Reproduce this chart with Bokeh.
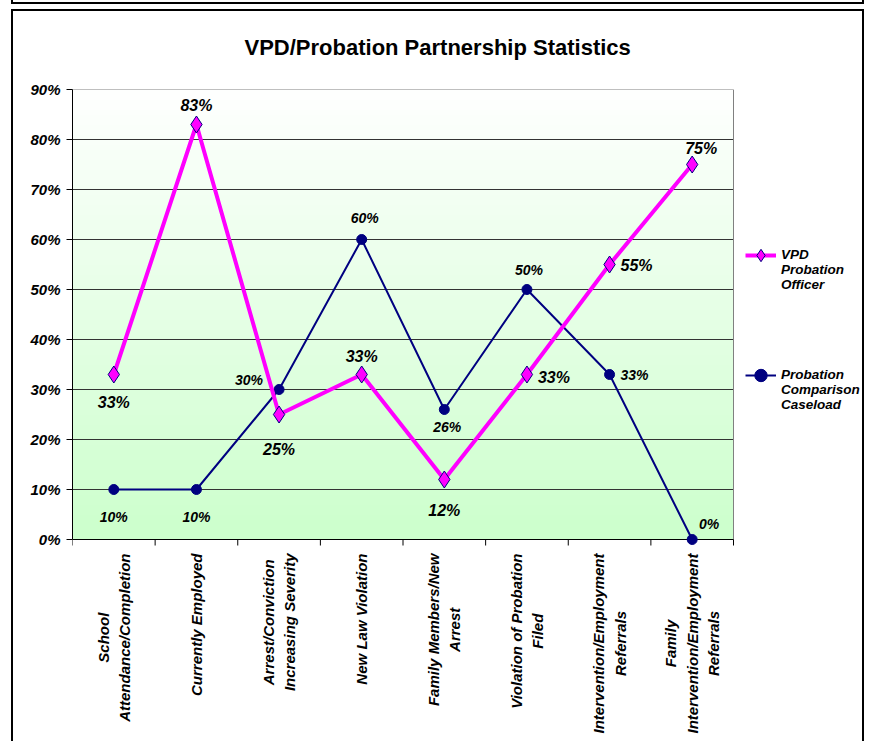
import numpy as np
from bokeh.plotting import figure
from bokeh.models import (Range1d, FixedTicker, PrintfTickFormatter, Legend, LegendItem,
                          ColumnDataSource)
from bokeh.core.properties import value
from bokeh.embed import file_html
from bokeh.resources import INLINE

# ---------------- data ----------------
categories = [
    "School\nAttendance/Completion",
    "Currently Employed",
    "Arrest/Conviction\nIncreasing Severity",
    "New Law Violation",
    "Family Members/New\nArrest",
    "Violation of Probation\nFiled",
    "Intervention/Employment\nReferrals",
    "Family\nIntervention/Employment\nReferrals",
]
vpd_values = [33, 83, 25, 33, 12, 33, 55, 75]
comparison_values = [10, 10, 30, 60, 26, 50, 33, 0]
y_ticks = [0, 10, 20, 30, 40, 50, 60, 70, 80, 90]
series_names = ["VPD\nProbation\nOfficer", "Probation\nComparison\nCaseload"]
title_text = "VPD/Probation Partnership Statistics"

# label placement (pixels) - styling only
vpd_dx = [0, 0, 0, 0, 0, 27, 27, 9]
vpd_dy = [28, -19, 35, -18, 31, 3, 1, -16]
cmp_dx = [0, 0, -30, 3, 3, 2, 25, 17]
cmp_dy = [27, 27, -10, -22, 17, -20, 0, -16]

FONT = "Liberation Sans"
MAGENTA = "#FF00FF"
NAVY = "#000080"

# layout (pixels)
W, H = 869, 741
LEFT, TOP, RIGHT_PAD = 72, 89, 4
PLOT_W, PLOT_H = 661, 450          # the gradient plot area

n = len(categories)
xs = [i + 0.5 for i in range(n)]
frame_w = W - LEFT - RIGHT_PAD
frame_h = H - TOP
x_end = n * frame_w / PLOT_W
y_top = y_ticks[-1]
y_start = y_top - frame_h * y_top / PLOT_H

p = figure(width=W, height=H, output_backend="svg", toolbar_location=None,
           x_range=Range1d(0, x_end), y_range=Range1d(y_start, y_top),
           min_border_left=LEFT, min_border_right=RIGHT_PAD, min_border_top=TOP,
           min_border_bottom=0)
p.background_fill_color = None
p.border_fill_color = None
p.outline_line_color = None

# outer chart frames drawn as CSS lines behind the transparent canvas
lines = [  # (x, y, w, h)
    (11, 0, 2, 4), (862, 0, 2, 4), (11, 2, 853, 2),
    (11, 9, 2, 740), (11, 9, 853, 2), (862, 9, 2, 740),
]
p.styles = {
    "background-color": "white",
    "background-image": ", ".join(["linear-gradient(#000,#000)"] * len(lines)),
    "background-size": ", ".join(f"{w}px {h}px" for _, _, w, h in lines),
    "background-position": ", ".join(f"{x}px {y}px" for x, y, _, _ in lines),
    "background-repeat": "no-repeat",
}

# gradient plot area (white at top -> light green at bottom)
bands = np.arange(y_ticks[0], y_ticks[-1], 1.0)
t = (bands + 0.5) / y_ticks[-1]
band_colors = ["#%02x%02x%02x" % (int(204 + 51 * tt), 255, int(204 + 51 * tt)) for tt in t]
p.quad(left=0, right=n, bottom=bands, top=bands + 1, fill_color=band_colors,
       line_color=band_colors, line_width=1, level="image")

# grid lines and plot-area border
p.xgrid.visible = False
p.ygrid.visible = False
inner = y_ticks[1:-1]
p.segment(x0=[0] * len(inner), x1=[n] * len(inner), y0=inner, y1=inner,
          line_color="#333333", line_width=1)
p.segment(x0=[0, n], x1=[n, n], y0=[y_top, 0], y1=[y_top, y_top],
          line_color="#808080", line_width=1)
# category axis line and boundary tick marks
p.segment(x0=[0], x1=[n], y0=[0], y1=[0], line_color="black", line_width=1)
p.ray(x=list(range(n + 1)), y=[0] * (n + 1), length=6, length_units="screen",
      angle=-np.pi / 2, line_color="black", line_width=1)
p.xaxis.visible = False

# y axis
p.yaxis.ticker = FixedTicker(ticks=y_ticks)
p.yaxis.bounds = (y_ticks[0], y_ticks[-1])
p.yaxis.formatter = PrintfTickFormatter(format="%d%%")
p.yaxis.axis_line_color = "black"
p.yaxis.major_tick_out = 6
p.yaxis.major_tick_in = 0
p.yaxis.minor_tick_line_color = None
p.yaxis.major_label_text_font = FONT
p.yaxis.major_label_text_font_style = "bold italic"
p.yaxis.major_label_text_font_size = "15px"
p.yaxis.major_label_text_color = "black"
p.yaxis.major_label_standoff = 6

# category labels, rotated, centred lines, hanging from the axis
p.text(x=xs, y=[0] * n, text=categories, angle=np.pi / 2, y_offset=14,
       anchor="center_right", text_align="center", text_font=value(FONT),
       text_font_style="bold italic", text_font_size="15px", text_color="black",
       text_line_height=1.25)

# series
src = ColumnDataSource(dict(x=xs, vpd=vpd_values, cmp=comparison_values,
                            vpd_lbl=[f"{v}%" for v in vpd_values],
                            cmp_lbl=[f"{v}%" for v in comparison_values],
                            vdx=vpd_dx, vdy=vpd_dy, cdx=cmp_dx, cdy=cmp_dy))

cmp_line = p.line("x", "cmp", source=src, line_color=NAVY, line_width=2)
cmp_pts = p.scatter("x", "cmp", source=src, marker="circle", size=10,
                    fill_color=NAVY, line_color=NAVY)
vpd_line = p.line("x", "vpd", source=src, line_color=MAGENTA, line_width=4)
vpd_pts = p.scatter("x", "vpd", source=src, marker="diamond", size=17,
                    fill_color=MAGENTA, line_color=NAVY, line_width=1)

p.text("x", "vpd", text="vpd_lbl", source=src, x_offset="vdx", y_offset="vdy",
       text_align="center", text_baseline="middle", text_font=value(FONT),
       text_font_style="bold italic", text_font_size="16px", text_color="black")
p.text("x", "cmp", text="cmp_lbl", source=src, x_offset="cdx", y_offset="cdy",
       text_align="center", text_baseline="middle", text_font=value(FONT),
       text_font_style="bold italic", text_font_size="14px", text_color="black")

# title
p.title.text = title_text
p.title.text_font = FONT
p.title.text_font_style = "bold"
p.title.text_font_size = "22px"
p.title.text_color = "black"
p.title.align = "left"
p.title.offset = 172
p.title.standoff = 60

# legend: two blank lines before each label so the key sits on the first line
legend = Legend(items=[LegendItem(label=" \n \n" + series_names[0], renderers=[vpd_line, vpd_pts]),
                       LegendItem(label=" \n \n" + series_names[1], renderers=[cmp_line, cmp_pts])],
                location=(673, 329), glyph_width=31, glyph_height=32, label_standoff=5,
                spacing=45, padding=0, margin=0, border_line_alpha=0,
                background_fill_alpha=0, label_text_font=FONT,
                label_text_font_style="bold italic", label_text_font_size="13.5px",
                label_text_color="black", label_text_line_height=1.35)
p.add_layout(legend, "center")

open("out.html", "w").write(file_html(p, INLINE))
